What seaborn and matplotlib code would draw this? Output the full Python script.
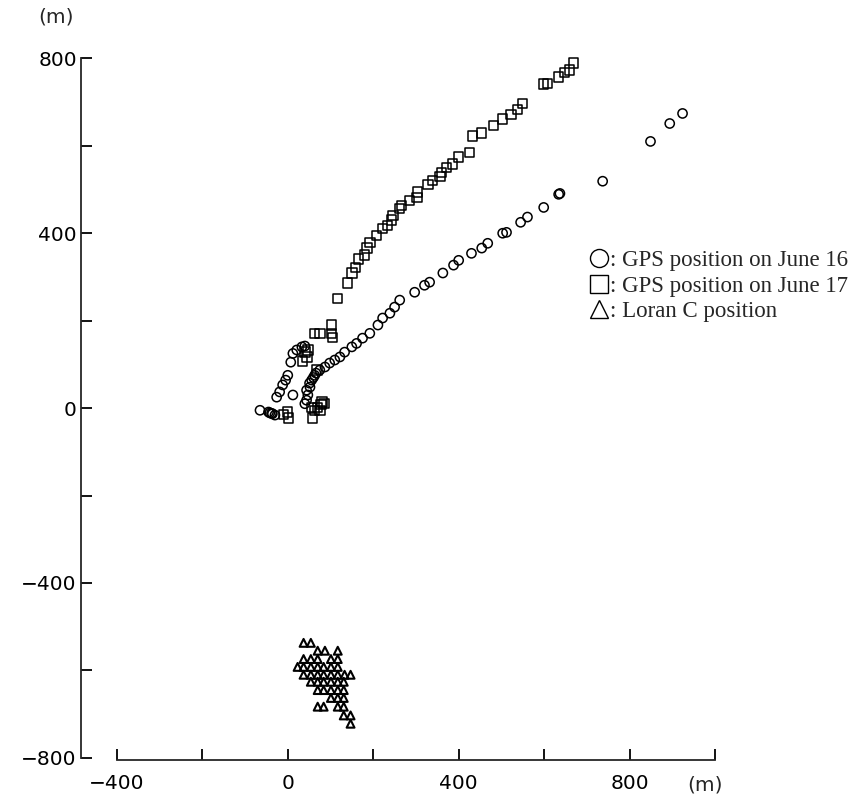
import pandas as pd
import matplotlib.pyplot as plt
import seaborn as sns
from matplotlib.lines import Line2D

# GPS positions on June 16 (circles), metres
jun16_x = [33, 40, 21, 12, 7, 0, -5, -12, -19, -26, 12, -65, -45, -42, -38, -36, -30,
           40, 47, 52, 60, 66,
           44, 44, 51, 56, 63, 75, 87, 98, 110, 122, 133, 150, 161, 175, 192, 211, 222,
           239, 250, 262, 297, 320, 332, 363, 388, 400, 430, 454, 468, 503, 512, 545,
           561, 599, 634, 637, 737, 849, 894, 924]
jun16_y = [140, 142, 133, 125, 105, 75, 64, 53, 37, 25, 30, -5, -9, -11, -12, -13, -16,
           10, 30, 48, 70, 80,
           18, 41, 57, 64, 75, 87, 94, 103, 110, 117, 128, 140, 148, 160, 171, 190, 206,
           217, 231, 247, 265, 281, 288, 309, 327, 338, 354, 366, 377, 400, 402, 425,
           437, 459, 489, 491, 519, 610, 651, 674]

# GPS positions on June 17 (squares)
jun17_x = [103, 75, 63, 103, 105, 40, 47, 45, 35, 68,
           -10, 0, 2, 58, 80, 70, 63, 56, 75, 78, 85,
           117, 140, 150, 159, 166, 180, 185, 192, 208, 222, 234, 243, 246, 262, 266,
           285, 302, 304, 328, 339, 356, 360, 372, 386, 400, 426, 433, 454, 482, 503,
           522, 538, 550, 599, 608, 634, 648, 660, 669]
jun17_y = [190, 171, 171, 171, 162, 128, 133, 117, 108, 87,
           -14, -9, -23, -23, 14, 2, -5, 2, -5, 8, 10,
           251, 286, 309, 322, 341, 350, 366, 379, 395, 411, 418, 430, 441, 457, 464,
           475, 482, 494, 512, 521, 530, 539, 551, 558, 574, 585, 622, 629, 647, 661,
           672, 683, 697, 741, 743, 757, 768, 773, 789]

# Loran C positions (triangles)
loran_x = [37, 54,
           70, 87, 117,
           37, 54, 70, 101, 117,
           23, 37, 54, 70, 84, 101, 117,
           37, 54, 70, 84, 101, 117, 133, 147,
           54, 70, 84, 101, 117, 131,
           70, 84, 101, 117, 131,
           101, 117, 131,
           70, 84, 117, 131,
           131, 147,
           147]
loran_y = [-537, -537,
           -555, -555, -555,
           -574, -574, -574, -574, -574,
           -592, -592, -592, -592, -592, -592, -592,
           -610, -610, -610, -610, -610, -610, -610, -610,
           -626, -626, -626, -626, -626, -626,
           -645, -645, -645, -645, -645,
           -663, -663, -663,
           -683, -683, -683, -683,
           -703, -703,
           -722]

series_names = ['June 16', 'June 17', 'Loran C']
legend_labels = [': GPS position on June 16', ': GPS position on June 17', ': Loran C position']

x_ticks = [-400, -200, 0, 200, 400, 600, 800, 1000]
x_labels = ['\u2212400', '', '0', '', '400', '', '800', '']
y_ticks = [-800, -600, -400, -200, 0, 200, 400, 600, 800]
y_labels = ['\u2212800', '', '\u2212400', '', '0', '', '400', '', '800']

df = pd.concat([
    pd.DataFrame({'x': jun16_x, 'y': jun16_y, 'series': 'June 16'}),
    pd.DataFrame({'x': jun17_x, 'y': jun17_y, 'series': 'June 17'}),
    pd.DataFrame({'x': loran_x, 'y': loran_y, 'series': 'Loran C'}),
])

sns.set_style('ticks')
plt.rcParams['font.family'] = ['DejaVu Sans']

fig = plt.figure(figsize=(8.56, 7.94), dpi=100)
ax = fig.add_axes([0.0946, 0.0428, 0.7407, 0.8892])

markers = {'June 16': 'o', 'June 17': 's', 'Loran C': '^'}
sizes = {'June 16': 44, 'June 17': 46, 'Loran C': 32}
widths = {'June 16': 1.1, 'June 17': 1.1, 'Loran C': 1.5}
for name in series_names:
    sub = df[df['series'] == name]
    sns.scatterplot(data=sub, x='x', y='y', marker=markers[name], s=sizes[name],
                    color='black', linewidth=widths[name], legend=False, ax=ax)
    ax.collections[-1].set_facecolor('none')
    ax.collections[-1].set_edgecolor('black')

ax.set_xlim(-484, 1000)
ax.set_ylim(-805, 810)
ax.set_xlabel('')
ax.set_ylabel('')

sns.despine(ax=ax)
ax.spines['left'].set_bounds(-800, 800)
ax.spines['bottom'].set_bounds(-400, 1000)
for sp in ['left', 'bottom']:
    ax.spines[sp].set_linewidth(1.3)

ax.set_xticks(x_ticks)
ax.set_xticklabels(x_labels)
ax.set_yticks(y_ticks)
ax.set_yticklabels(y_labels)
ax.tick_params(axis='both', direction='in', length=8, width=1.3, labelsize=14.5, colors='black')
ax.tick_params(axis='x', pad=10)
ax.tick_params(axis='y', pad=3)

fig.text(0.066, 0.978, '(m)', fontsize=14.5, ha='center', va='center')
fig.text(0.824, 0.011, '(m)', fontsize=14.5, ha='center', va='center')

handles = [Line2D([], [], marker=markers[n], linestyle='none', markersize=13,
                  markerfacecolor='none', markeredgecolor='black', markeredgewidth=1.0)
           for n in series_names]
fig.legend(handles, legend_labels, loc='upper left', bbox_to_anchor=(0.688, 0.685),
           bbox_transform=fig.transFigure, frameon=False, handletextpad=0.0,
           handlelength=0.9, labelspacing=0.2, borderaxespad=0, borderpad=0,
           prop={'family': 'Liberation Serif', 'size': 16.5})

fig.savefig('out.png', dpi=100)
